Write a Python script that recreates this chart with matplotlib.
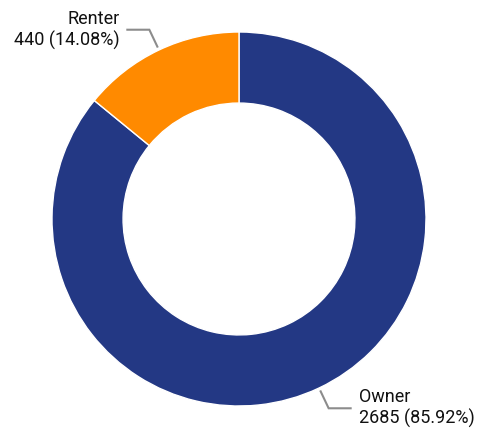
import numpy as np
import matplotlib.pyplot as plt

labels = ['Owner', 'Renter']
counts = [2685, 440]
colors = ['#233884', '#ff8a00']

total = sum(counts)

fig = plt.figure(figsize=(4.83, 4.30), dpi=100)
ax = fig.add_axes([0, 0, 1, 1])

cx, cy, R = 239, 211, 187
wedges, _ = ax.pie(counts, colors=colors, startangle=90, counterclock=False,
                   center=(cx, cy), radius=R, frame=True,
                   wedgeprops=dict(width=R * 0.38, edgecolor='white', linewidth=1))
ax.set_xlim(0, 483)
ax.set_ylim(0, 430)
ax.set_aspect('equal')
ax.axis('off')

for w, lab, n in zip(wedges, labels, counts):
    mid = np.deg2rad((w.theta1 + w.theta2) / 2)
    dx, dy = np.cos(mid), np.sin(mid)
    p0 = (cx + 1.02 * R * dx, cy + 1.02 * R * dy)
    p1 = (cx + 1.12 * R * dx, cy + 1.12 * R * dy)
    side = 1 if dx > 0 else -1
    p2 = (p1[0] + side * 22, p1[1])
    ax.plot([p0[0], p1[0], p2[0]], [p0[1], p1[1], p2[1]], color='#8c8c8c', lw=1.5,
            solid_joinstyle='miter')
    ax.text(p2[0] + side * 8, p1[1], f"{lab}\n{n} ({n / total * 100:.2f}%)",
            ha='left' if side > 0 else 'right', va='center', fontsize=13,
            family='Roboto', color='#111111', linespacing=1.2)

fig.savefig('out.png', dpi=100)
